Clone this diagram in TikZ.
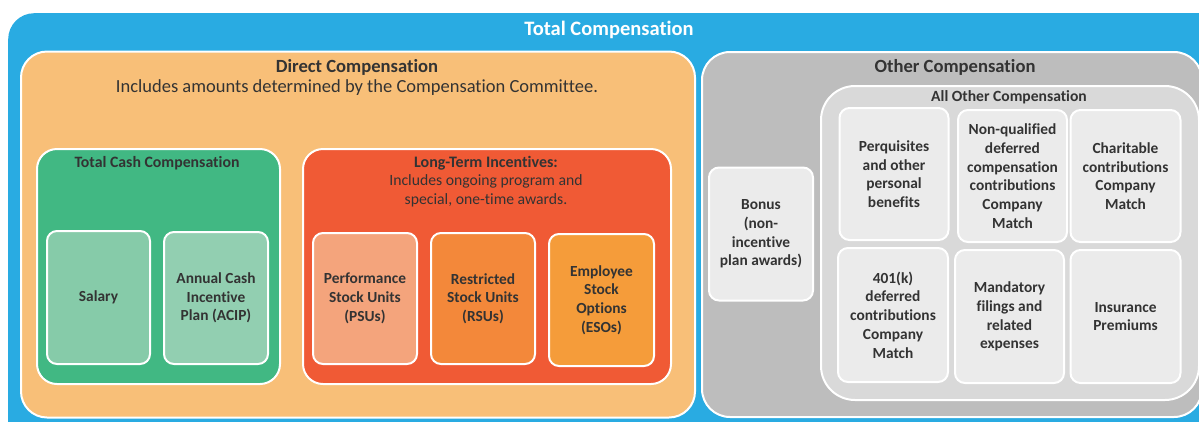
\documentclass[tikz,border=0pt]{standalone}
\usepackage{fontspec}
\setmainfont{Carlito}[Ligatures=NoCommon]
\definecolor{cblue}{HTML}{29ABE2}
\definecolor{corange}{HTML}{F8BF78}
\definecolor{cgreen}{HTML}{41B883}
\definecolor{csalary}{HTML}{86CBA9}
\definecolor{cacip}{HTML}{92CFB1}
\definecolor{cred}{HTML}{F05A35}
\definecolor{cpsu}{HTML}{F4A47C}
\definecolor{crsu}{HTML}{F3883A}
\definecolor{ceso}{HTML}{F59C3A}
\definecolor{cgray}{HTML}{BDBDBD}
\definecolor{clgray}{HTML}{D9D9D9}
\definecolor{cbox}{HTML}{EBEBEB}
\definecolor{ctext}{HTML}{333333}
\begin{document}
\begin{tikzpicture}[x=1pt,y=-1pt,
  panel/.style={draw=white,line width=2pt},
  item/.style={draw=white,line width=2pt,rounded corners=10pt,inner sep=0pt,
    align=center,text=ctext,font=\fontsize{15.4}{18.7}\selectfont\bfseries},
  ttl/.style={text=ctext,font=\fontsize{18.6}{21}\selectfont\bfseries,inner sep=0pt},
  sub/.style={text=ctext,font=\fontsize{15.7}{19}\selectfont,inner sep=0pt,align=center}]
\useasboundingbox (0,0) rectangle (1199,421);
\clip (0,0) rectangle (1199,421);
% outer blue
\node[fill=cblue,rounded corners=26pt,minimum width=1240pt,minimum height=460pt,inner sep=0pt,anchor=north west] (total) at (8,13) {};
\node[text=white,font=\fontsize{20.5}{23}\selectfont\bfseries,inner sep=0pt] (totalT) at (609,30) {Total Compensation};
% direct compensation
\node[panel,fill=corange,rounded corners=26pt,minimum width=674pt,minimum height=366pt,inner sep=0pt,anchor=north west] (direct) at (20,50.5) {};
\node[ttl] (directT) at (357,67) {Direct Compensation};
\node[sub,font=\fontsize{18.5}{21}\selectfont] (directS) at (357,88) {Includes amounts determined by the Compensation Committee.};
% total cash
\node[panel,fill=cgreen,rounded corners=20pt,minimum width=243pt,minimum height=235pt,inner sep=0pt,anchor=north west] (cash) at (36,148) {};
\node[ttl,font=\fontsize{15.8}{18}\selectfont\bfseries] (cashT) at (157,163) {Total Cash Compensation};
\node[item,fill=csalary,minimum width=103pt,minimum height=133pt] (salary) at (98.5,297.5) {Salary};
\node[item,fill=cacip,minimum width=104pt,minimum height=132pt] (acip) at (216,298) {Annual Cash\\Incentive\\Plan (ACIP)};
% long term incentives
\node[panel,fill=cred,rounded corners=20pt,minimum width=368pt,minimum height=235pt,inner sep=0pt,anchor=north west] (lti) at (302,148) {};
\node[ttl,font=\fontsize{16}{18}\selectfont\bfseries] (ltiT) at (486,163) {Long-Term Incentives:};
\node[sub] (ltiS) at (486,190.5) {Includes ongoing program and\\special, one-time awards.};
\node[item,fill=cpsu,minimum width=104pt,minimum height=131pt] (psu) at (365,298.5) {Performance\\Stock Units\\(PSUs)};
\node[item,fill=crsu,minimum width=104pt,minimum height=131pt] (rsu) at (483,298.5) {Restricted\\Stock Units\\(RSUs)};
\node[item,fill=ceso,minimum width=105pt,minimum height=132pt] (eso) at (601.5,300) {Employee\\Stock\\Options\\(ESOs)};
% other compensation
\node[panel,fill=cgray,rounded corners=28pt,minimum width=500pt,minimum height=365pt,inner sep=0pt,anchor=north west] (other) at (701,51) {};
\node[ttl] (otherT) at (955,67) {Other Compensation};
\node[item,fill=cbox,minimum width=104pt,minimum height=133pt] (bonus) at (761,234) {Bonus\\(non-\\incentive\\plan awards)};
\node[panel,fill=clgray,rounded corners=34pt,minimum width=378pt,minimum height=314pt,inner sep=0pt,anchor=north west] (allother) at (820,85) {};
\node[ttl,font=\fontsize{15.6}{18}\selectfont\bfseries] (allotherT) at (1009,97) {All Other Compensation};
\node[item,fill=cbox,minimum width=109pt,minimum height=132pt] (perq) at (894,174) {Perquisites\\and other\\personal\\benefits};
\node[item,fill=cbox,minimum width=109pt,minimum height=132pt] (nq) at (1012.5,176) {Non-qualified\\deferred\\compensation\\contributions\\Company\\Match};
\node[item,fill=cbox,minimum width=110pt,minimum height=132pt] (char) at (1125.5,176) {Charitable\\contributions\\Company\\Match};
\node[item,fill=cbox,minimum width=110pt,minimum height=134pt] (k401) at (893,315) {401(k)\\deferred\\contributions\\Company\\Match};
\node[item,fill=cbox,minimum width=109pt,minimum height=133pt] (mand) at (1009.5,316.5) {Mandatory\\filings and\\related\\expenses};
\node[item,fill=cbox,minimum width=110pt,minimum height=133pt] (ins) at (1125.5,316.5) {Insurance\\Premiums};
\end{tikzpicture}
\end{document}
